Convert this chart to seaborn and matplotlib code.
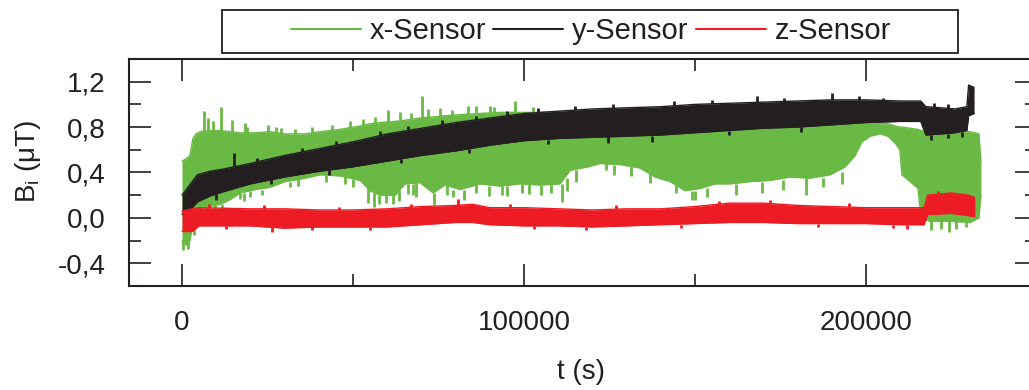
import matplotlib
matplotlib.use("Agg")
import matplotlib.pyplot as plt
import seaborn as sns
import pandas as pd
from matplotlib.lines import Line2D
from matplotlib.patches import Rectangle

# ---------------- data ----------------
series_names = ["x-Sensor", "y-Sensor", "z-Sensor"]
series_colors = ["#6ab944", "#231f20", "#ed1c24"]

# x-Sensor envelope: time (s), upper and lower edge of the noisy trace (µT)
x_t = [0, 1200, 2300, 3200, 4100, 5300, 8200, 11100, 14000, 17000, 21400, 25700,
       30100, 36000, 40400, 46200, 52100, 55000, 57900, 62300, 65200, 69600, 73400,
       76900, 81300, 87100, 93000, 98800, 104700, 110500, 113500, 118700, 122200,
       128100, 133900, 138300, 142700, 147100, 151500, 155900, 160200, 166100,
       171900, 177800, 183600, 189500, 193900, 196800, 198800, 201200, 204100,
       206400, 208500, 209900, 210500, 212900, 215200, 216100, 218700, 224600,
       230400, 233000, 233600]
x_up = [0.50, 0.52, 0.55, 0.70, 0.74, 0.76, 0.77, 0.77, 0.76, 0.75, 0.75, 0.76,
        0.74, 0.74, 0.76, 0.78, 0.81, 0.83, 0.84, 0.85, 0.86, 0.88, 0.89,
        0.90, 0.91, 0.92, 0.93, 0.93, 0.93, 0.93, 0.90, 0.85, 0.85,
        0.86, 0.86, 0.86, 0.87, 0.88, 0.88, 0.89, 0.90, 0.90,
        0.91, 0.91, 0.92, 0.91, 0.90, 0.88, 0.86, 0.84, 0.83,
        0.83, 0.81, 0.80, 0.80, 0.79, 0.78, 0.77, 0.76, 0.76,
        0.76, 0.74, 0.50]
x_lo = [-0.20, -0.24, -0.20, -0.05, 0.05, 0.10, 0.10, 0.12, 0.16, 0.22, 0.25, 0.27,
        0.32, 0.35, 0.38, 0.37, 0.33, 0.24, 0.20, 0.20, 0.30, 0.31, 0.22,
        0.29, 0.25, 0.30, 0.28, 0.30, 0.29, 0.30, 0.42, 0.45, 0.48,
        0.47, 0.44, 0.36, 0.32, 0.24, 0.26, 0.30, 0.30, 0.32,
        0.33, 0.36, 0.35, 0.38, 0.45, 0.55, 0.67, 0.72, 0.74,
        0.72, 0.66, 0.60, 0.38, 0.32, 0.26, 0.00, -0.03, -0.03,
        -0.04, 0.00, 0.20]
# x-Sensor single spikes: time, base, tip
x_spk_t = [6400, 7600, 9100, 11400, 14600, 18400, 25100, 27500, 60200, 63700, 70200,
           71900, 75400, 83600, 86000, 90100, 91300, 97400, 102600,
           19000, 29000, 33000, 38000, 44000, 49000, 53000, 56500, 67000, 79000,
           300, 1800, 5300, 7000, 9700, 11700, 17000, 18200, 23400, 31600, 47700,
           54400, 57600, 59600, 61700, 63500, 67600, 73700, 79200, 85900, 89700,
           95000, 101400, 104900, 111100, 115200, 124000, 126400, 131300, 136900,
           144300, 149200, 150100, 153600, 162100, 169700, 175600, 182600, 187300,
           193100, 219000, 222000, 224300, 226300, 229200,
           3500, 20000, 34000, 42000, 50000, 56000, 66000, 68500, 77500, 82500,
           93500, 99500, 108000, 112500]
x_spk_b = [0.75, 0.75, 0.75, 0.75, 0.75, 0.74, 0.75, 0.75, 0.84, 0.85, 0.87,
           0.88, 0.89, 0.91, 0.92, 0.92, 0.92, 0.93, 0.93,
           0.75, 0.74, 0.74, 0.75, 0.77, 0.79, 0.82, 0.83, 0.87, 0.90,
           -0.20, -0.20, 0.10, 0.10, 0.12, 0.12, 0.22, 0.22, 0.25, 0.32, 0.37,
           0.30, 0.20, 0.20, 0.20, 0.25, 0.30, 0.22, 0.25, 0.30, 0.28,
           0.28, 0.30, 0.29, 0.30, 0.42, 0.48, 0.47, 0.46, 0.40,
           0.30, 0.24, 0.24, 0.26, 0.30, 0.32, 0.33, 0.35, 0.35,
           0.40, -0.03, -0.03, -0.03, -0.03, -0.03,
           -0.05, 0.24, 0.34, 0.38, 0.34, 0.22, 0.30, 0.31, 0.29, 0.25,
           0.28, 0.30, 0.30, 0.35]
x_spk_e = [0.94, 0.88, 0.85, 0.98, 0.86, 0.84, 0.82, 0.80, 0.95, 0.93, 1.07,
           0.96, 0.97, 0.99, 0.99, 0.99, 0.98, 1.03, 0.98,
           0.80, 0.79, 0.78, 0.80, 0.82, 0.85, 0.87, 0.89, 0.92, 0.95,
           -0.28, -0.27, 0.04, 0.03, 0.04, 0.05, 0.17, 0.15, 0.20, 0.27, 0.30,
           0.13, 0.12, 0.13, 0.12, 0.15, 0.20, 0.11, 0.18, 0.22, 0.19,
           0.19, 0.21, 0.20, 0.14, 0.32, 0.42, 0.38, 0.37, 0.31,
           0.22, 0.16, 0.16, 0.18, 0.20, 0.22, 0.25, 0.20, 0.27,
           0.30, -0.11, -0.10, -0.12, -0.10, -0.08,
           -0.15, 0.18, 0.28, 0.32, 0.27, 0.10, 0.21, 0.18, 0.20, 0.16,
           0.20, 0.22, 0.22, 0.24]

# y-Sensor envelope
y_t = [0, 1500, 3000, 4500, 8000, 12000, 20000, 30000, 40000, 50000, 60000, 70000,
       80000, 90000, 100000, 110000, 120000, 130000, 140000, 150000, 160000, 170000,
       180000, 190000, 200000, 210000, 216000, 217500, 222000, 226000, 229500,
       230000, 231600]
y_up = [0.20, 0.26, 0.32, 0.38, 0.41, 0.43, 0.48, 0.55, 0.61, 0.67, 0.74, 0.79,
        0.84, 0.88, 0.92, 0.94, 0.96, 0.97, 0.98, 1.00, 1.01, 1.02,
        1.03, 1.04, 1.04, 1.03, 1.03, 0.98, 0.97, 0.96, 0.98,
        1.17, 1.15]
y_lo = [0.03, 0.05, 0.09, 0.14, 0.19, 0.23, 0.30, 0.36, 0.41, 0.45, 0.50, 0.55,
        0.59, 0.64, 0.68, 0.70, 0.71, 0.72, 0.73, 0.75, 0.77, 0.79,
        0.80, 0.82, 0.84, 0.85, 0.85, 0.73, 0.74, 0.75, 0.77,
        0.90, 0.92]
y_spk_t = [15200, 124600, 137400, 168100, 190100,
           22000, 35000, 45000, 58000, 66000, 76000, 86000, 95000, 104000, 115000,
           126000, 144000, 155000, 176000, 198000, 205000, 220000, 224000,
           10000, 26000, 43000, 64000, 84000, 107000, 160000, 181000, 219000,
           224000, 228000]
y_spk_b = [0.45, 0.72, 0.72, 1.02, 1.04,
           0.49, 0.58, 0.64, 0.73, 0.77, 0.82, 0.86, 0.90, 0.93, 0.95,
           0.96, 0.99, 1.00, 1.02, 1.04, 1.03, 0.97, 0.96,
           0.21, 0.34, 0.42, 0.52, 0.61, 0.69, 0.77, 0.80, 0.73,
           0.74, 0.76]
y_spk_e = [0.57, 0.66, 0.67, 1.07, 1.10,
           0.53, 0.62, 0.68, 0.77, 0.81, 0.86, 0.90, 0.94, 0.97, 0.99,
           1.00, 1.03, 1.04, 1.06, 1.07, 1.06, 1.01, 1.00,
           0.16, 0.30, 0.38, 0.48, 0.57, 0.65, 0.73, 0.76, 0.69,
           0.70, 0.71]

# z-Sensor envelope
z_t = [0, 3000, 5000, 20000, 30000, 40000, 50000, 60000, 70000, 80000, 85000,
       90000, 100000, 110000, 120000, 130000, 140000, 150000, 160000, 170000,
       180000, 190000, 200000, 210000, 217000, 218000, 225000, 230000, 231800]
z_up = [0.06, 0.08, 0.09, 0.08, 0.08, 0.07, 0.07, 0.08, 0.10, 0.11, 0.12,
        0.09, 0.09, 0.08, 0.07, 0.08, 0.08, 0.10, 0.13, 0.13,
        0.11, 0.10, 0.09, 0.09, 0.09, 0.20, 0.22, 0.20, 0.18]
z_lo = [-0.12, -0.12, -0.07, -0.07, -0.09, -0.08, -0.08, -0.08, -0.06, -0.04, -0.04,
        -0.06, -0.07, -0.07, -0.08, -0.07, -0.06, -0.05, -0.04, -0.04,
        -0.05, -0.05, -0.05, -0.06, -0.06, 0.03, 0.04, 0.02, 0.01]
z_spk_t = [80700, 26300,
           8000, 24000, 46000, 67000, 96000, 127000, 157000, 172000, 195000, 221000,
           13000, 38000, 55000, 103000, 118000, 146000, 186000, 208000, 212000]
z_spk_b = [0.09, -0.08,
           0.09, 0.08, 0.07, 0.09, 0.09, 0.08, 0.12, 0.13, 0.10, 0.21,
           -0.07, -0.08, -0.08, -0.07, -0.08, -0.06, -0.05, -0.06, -0.06]
z_spk_e = [0.17, -0.12,
           0.12, 0.11, 0.10, 0.12, 0.12, 0.11, 0.15, 0.16, 0.13, 0.24,
           -0.10, -0.11, -0.11, -0.10, -0.11, -0.09, -0.08, -0.09, -0.10]

xtick_vals = [0, 100000, 200000]
xtick_labels = ["0", "100000", "200000"]
xminor_vals = [50000, 150000]
ytick_vals = [-0.4, 0.0, 0.4, 0.8, 1.2]
ytick_labels = ["-0,4", "0,0", "0,4", "0,8", "1,2"]
yminor_vals = [-0.2, 0.2, 0.6, 1.0]

# ---------------- figure ----------------
sns.set_theme(style="ticks")
plt.rcParams["font.family"] = ["Liberation Sans", "DejaVu Sans"]

fig = plt.figure(figsize=(10.29, 3.90), dpi=100)
ax = fig.add_axes([129 / 1029, 1 - 286 / 390, 908 / 1029, 227 / 390])

envs = [(x_t, x_up, x_lo, x_spk_t, x_spk_b, x_spk_e),
        (y_t, y_up, y_lo, y_spk_t, y_spk_b, y_spk_e),
        (z_t, z_up, z_lo, z_spk_t, z_spk_b, z_spk_e)]

for name, col, (t, up, lo, st, sb, se) in zip(series_names, series_colors, envs):
    df = pd.DataFrame({"t": t, "up": up, "lo": lo})
    ax.fill_between(df["t"], df["lo"], df["up"], color=col, lw=0, zorder=2)
    sns.lineplot(data=df, x="t", y="up", ax=ax, color=col, lw=1.0, zorder=2)
    sns.lineplot(data=df, x="t", y="lo", ax=ax, color=col, lw=1.0, zorder=2)
    ax.vlines(st, sb, se, color=col, lw=2.0, zorder=2)

ax.set_xlim(-15500, 250000)
ax.set_ylim(-0.6, 1.4)
ax.set_xlabel("")
ax.set_ylabel("")

ax.set_xticks(xtick_vals, xtick_labels)
ax.set_xticks(xminor_vals, minor=True)
ax.set_yticks(ytick_vals, ytick_labels)
ax.set_yticks(yminor_vals, minor=True)
ax.tick_params(which="both", direction="in", top=True, right=True,
               width=1.2, color="#231f20", labelcolor="#231f20", labelsize=20)
ax.tick_params(which="major", length=16, pad=17)
ax.tick_params(which="minor", length=8.5)
for s in ax.spines.values():
    s.set_visible(True)
    s.set_linewidth(1.5)
    s.set_color("#231f20")

fig.text(28 / 1029, 1 - 161 / 390, r"B$_\mathregular{i}$ ($\mathregular{\mu}$T)",
         rotation=90, ha="center", va="center", fontsize=20, color="#231f20")
fig.text(581 / 1029, 1 - 372 / 390, "t (s)", ha="center", va="center",
         fontsize=20, color="#231f20")

# legend box
fig.patches.append(Rectangle((222 / 1029, 1 - 53 / 390), 736 / 1029, 43 / 390,
                             transform=fig.transFigure, fill=False,
                             edgecolor="#231f20", lw=1.3))
handles = [Line2D([], [], color=c, lw=1.5) for c in series_colors]
fig.legend(handles, series_names, loc="center", bbox_to_anchor=(591 / 1029, 1 - 31 / 390),
           ncol=3, frameon=False, fontsize=21, handlelength=2.4, handletextpad=0.3,
           columnspacing=0.25, borderaxespad=0, borderpad=0, labelcolor="#231f20")

fig.savefig("out.png", dpi=100)
